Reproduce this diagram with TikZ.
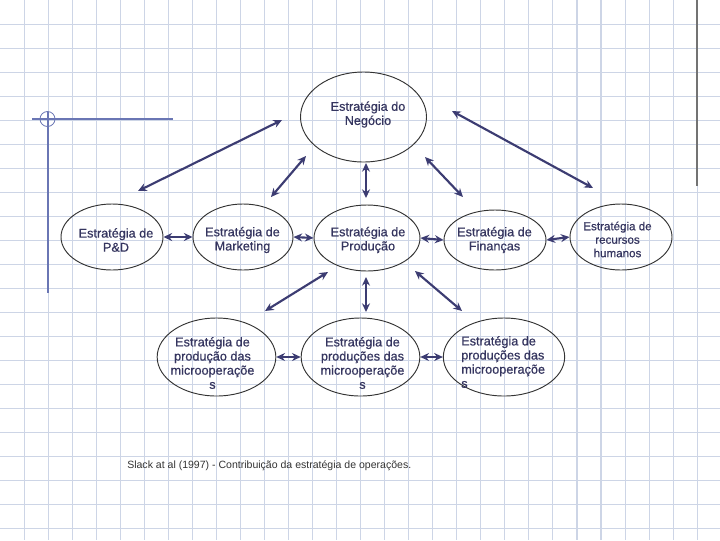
\documentclass[tikz,border=0pt]{standalone}
\usepackage{fontspec}
\setmainfont{Liberation Sans}
\newfontfamily\ovf[FakeBold=0.6]{Liberation Sans}
\usetikzlibrary{shapes.geometric,arrows.meta}
\definecolor{gridc}{HTML}{CDD5E6}
\definecolor{txtc}{HTML}{35355F}
\definecolor{arrc}{HTML}{3C3C72}
\definecolor{decoc}{HTML}{6A76B4}
\tikzset{
  oval/.style={ellipse, draw=black!80, line width=0.7pt, inner sep=0pt},
  otext/.style={text=txtc, align=center, inner sep=0pt, font=\ovf\fontsize{9.5}{10.6}\selectfont},
  dbl/.style={draw=arrc, line width=1.6pt, {Stealth[length=6.5pt,width=6pt]}-{Stealth[length=6.5pt,width=6pt]}},
}
\begin{document}
\begin{tikzpicture}[x=0.75pt,y=-0.75pt]
\useasboundingbox (0,0) rectangle (720,540);
\fill[white] (0,0) rectangle (720,540);
% grid
\foreach \i in {1,...,29} {\draw[gridc, line width=0.8pt] (\i*24.04,0) -- (\i*24.04,540);}
\foreach \i in {1,...,22} {\draw[gridc, line width=0.8pt] (0,\i*24.04) -- (720,\i*24.04);}
% decorations
\draw[decoc, line width=1pt] (32,119) -- (173,119);
\draw[decoc, line width=1pt] (48,112) -- (48,293);
\draw[decoc, line width=0.6pt] (47.5,119) circle (7.5);
\draw[black!55, line width=1pt] (697,0) -- (697,186);
% ellipses
\node[oval, minimum width=94.5pt, minimum height=67.5pt] (top) at (363.5,117) {};
\node[oval, minimum width=76.5pt, minimum height=49.5pt] (pd) at (112,237) {};
\node[oval, minimum width=75pt, minimum height=49.5pt] (mk) at (243,237) {};
\node[oval, minimum width=79.5pt, minimum height=49.5pt] (pr) at (367,238) {};
\node[oval, minimum width=76.5pt, minimum height=45pt] (fi) at (495,240) {};
\node[oval, minimum width=76.5pt, minimum height=49.5pt] (rh) at (621,237) {};
\node[oval, minimum width=89pt, minimum height=58.5pt] (b1) at (216.5,357) {};
\node[oval, minimum width=89pt, minimum height=58.5pt] (b2) at (360.5,357) {};
\node[oval, minimum width=91pt, minimum height=58.5pt] (b3) at (504,357) {};
% texts
\node[otext] (topt) at (368,114.5) {Estratégia do\\Negócio};
\node[otext] (pdt) at (116,240) {Estratégia de\\P\&D};
\node[otext] (mkt) at (242.5,240) {Estratégia de\\Marketing};
\node[otext] (prt) at (368,240) {Estratégia de\\Produção};
\node[otext] (fit) at (494.5,240) {Estratégia de\\Finanças};
\node[otext, font=\ovf\fontsize{8.7}{10.1}\selectfont] (rht) at (617.5,239.5) {Estratégia de\\recursos\\humanos};
\node[otext] (b1t) at (212.5,363) {Estratégia de\\produção das\\microoperaçõe\\s};
\node[otext] (b2t) at (362.5,363) {Estratégia de\\produções das\\microoperaçõe\\s};
\node[otext, align=left, anchor=west] (b3t) at (461,362) {Estratégia de\\produções das\\microoperaçõe\\s};
% arrow end points
\coordinate (a1) at (138,191); \coordinate (a2) at (282,120);
\coordinate (c1) at (271,197); \coordinate (c2) at (306,156);
\coordinate (d1) at (366,163); \coordinate (d2) at (366,198);
\coordinate (e1) at (425,157); \coordinate (e2) at (463,197);
\coordinate (f1) at (452,111); \coordinate (f2) at (593,188);
\coordinate (g1) at (328,272); \coordinate (g2) at (265,311);
\coordinate (h1) at (366,277); \coordinate (h2) at (366,312);
\coordinate (k1) at (415,271); \coordinate (k2) at (462,311);
% arrows
\draw[dbl] (a1) -- (a2);
\draw[dbl] (c1) -- (c2);
\draw[dbl] (d1) -- (d2);
\draw[dbl] (e1) -- (e2);
\draw[dbl] (f1) -- (f2);
\draw[dbl] (pd.east) -- (mk.west);
\draw[dbl] (mk.east) -- (pr.west);
\draw[dbl] (pr.east) -- (fi.west);
\draw[dbl] (fi.east) -- (rh.west);
\draw[dbl] (g1) -- (g2);
\draw[dbl] (h1) -- (h2);
\draw[dbl] (k1) -- (k2);
\draw[dbl] (b1.east) -- (b2.west);
\draw[dbl] (b2.east) -- (b3.west);
% caption
\node[anchor=west, text=black!80, font=\fontsize{7.9}{9}\selectfont, inner sep=0pt] (cap) at (127,466) {Slack at al (1997) - Contribuição da estratégia de operações.};
\end{tikzpicture}
\end{document}
